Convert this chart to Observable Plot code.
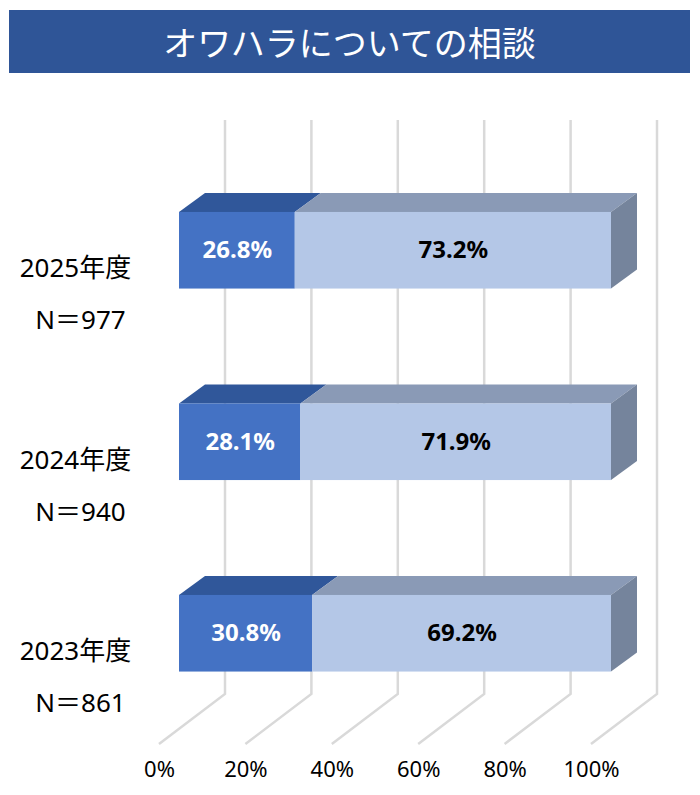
<!DOCTYPE html>
<html><head><meta charset="utf-8">
<script src="https://cdn.jsdelivr.net/npm/d3@7"></script>
<script src="https://cdn.jsdelivr.net/npm/@observablehq/plot@0.6"></script>
<style>
body{margin:0;background:#fff;}
#title{margin:10px 10px 0 9px;height:63px;background:#2f5597;color:#fff;font-family:"Noto Sans CJK JP",sans-serif;font-size:34px;font-weight:400;text-align:center;line-height:63px;}
#chart svg{display:block;}
</style></head><body>
<div id="title">オワハラについての相談</div>
<div id="chart"></div>
<script>
// ---- data ----
const years = ["2025年度", "2024年度", "2023年度"];
const nLabels = ["N＝977", "N＝940", "N＝861"];
const seriesKeys = ["A", "B"];
const seriesA = [26.8, 28.1, 30.8];
const seriesB = [73.2, 71.9, 69.2];
const xTicks = [0, 20, 40, 60, 80, 100];

// ---- styles / layout constants ----
const frontColor = {A: "#4472c4", B: "#b4c7e7"};
const topColor = {A: "#30579a", B: "#8a9ab6"};
const sideColor = "#75849c";
const labelColor = {A: "#ffffff", B: "#000000"};
const DEPTH_X = 26, DEPTH_Y = 19;         // bar depth
const WALL_X = 46, FLOOR_X = -20;         // grid back wall / floor front offsets
const GRID_TOP = 47, FLOOR_BACK = 621, FLOOR_FRONT = 671;
const W = 700, H = 722;
const FONT = '"Noto Sans","Noto Sans CJK JP",sans-serif';

const rows = years.flatMap((y, i) => [
  {year: y, key: seriesKeys[0], value: seriesA[i]},
  {year: y, key: seriesKeys[1], value: seriesB[i]}
]);

function depthMark() {
  const args = Array.from(arguments);
  const sc = args.find(a => a && typeof a.x === "function" && typeof a.y === "function");
  const x = sc.x, y = sc.y;
  const bw = typeof y.bandwidth === "function" ? y.bandwidth() : y.bandwidth;
  const g = d3.create("svg:g");
  // grid (back wall verticals + floor diagonals)
  for (const t of xTicks) {
    const fx = x(t);
    g.append("path")
      .attr("d", `M${fx + WALL_X},${GRID_TOP}V${FLOOR_BACK}L${fx + FLOOR_X},${FLOOR_FRONT}`)
      .attr("fill", "none").attr("stroke", "#d9d9d9").attr("stroke-width", 2.5);
  }
  // 3D faces of bars
  years.forEach((yr, i) => {
    const yt = y(yr), yb = yt + bw;
    let acc = 0;
    const segs = [[seriesKeys[0], seriesA[i]], [seriesKeys[1], seriesB[i]]];
    segs.forEach(([k, v], j) => {
      const x1 = x(acc), x2 = x(acc + v);
      acc += v;
      g.append("path")
        .attr("d", `M${x1},${yt}L${x2},${yt}L${x2 + DEPTH_X},${yt - DEPTH_Y}L${x1 + DEPTH_X},${yt - DEPTH_Y}Z`)
        .attr("fill", topColor[k]);
      if (j === segs.length - 1) {
        g.append("path")
          .attr("d", `M${x2},${yt}L${x2 + DEPTH_X},${yt - DEPTH_Y}L${x2 + DEPTH_X},${yb - DEPTH_Y}L${x2},${yb}Z`)
          .attr("fill", sideColor);
      }
    });
  });
  return g.node();
}

const chart = Plot.plot({
  width: W, height: H,
  marginLeft: 179, marginRight: 89, marginTop: 0, marginBottom: 0,
  style: {fontFamily: FONT, background: "#fff", overflow: "visible"},
  x: {domain: [0, 100], axis: null},
  y: {domain: years, range: [81.5, 656], paddingInner: 0.6, paddingOuter: 0.3, round: false, axis: null},
  marks: [
    depthMark,
    Plot.barX(rows, {x: "value", y: "year", z: "key", fill: d => frontColor[d.key]}),
    Plot.text(rows, Plot.stackX({x: "value", y: "year", z: "key",
      text: d => d.value.toFixed(1) + "%", fill: d => labelColor[d.key],
      fontSize: 24, fontWeight: "bold"})),
    Plot.text(years, {y: d => d, text: d => d, frameAnchor: "left", textAnchor: "middle",
      dx: -104, dy: 18, fontSize: 26, fill: "#000"}),
    Plot.text(years, {y: d => d, text: (d, i) => nLabels[i], frameAnchor: "left", textAnchor: "middle",
      dx: -99, dy: 70, fontSize: 26, fill: "#000"}),
    Plot.text(xTicks, {x: d => d, text: d => d + "%", frameAnchor: "bottom",
      dx: FLOOR_X, dy: -19, fontSize: 22, fill: "#000"})
  ]
});
document.getElementById("chart").append(chart);
</script>
</body></html>
